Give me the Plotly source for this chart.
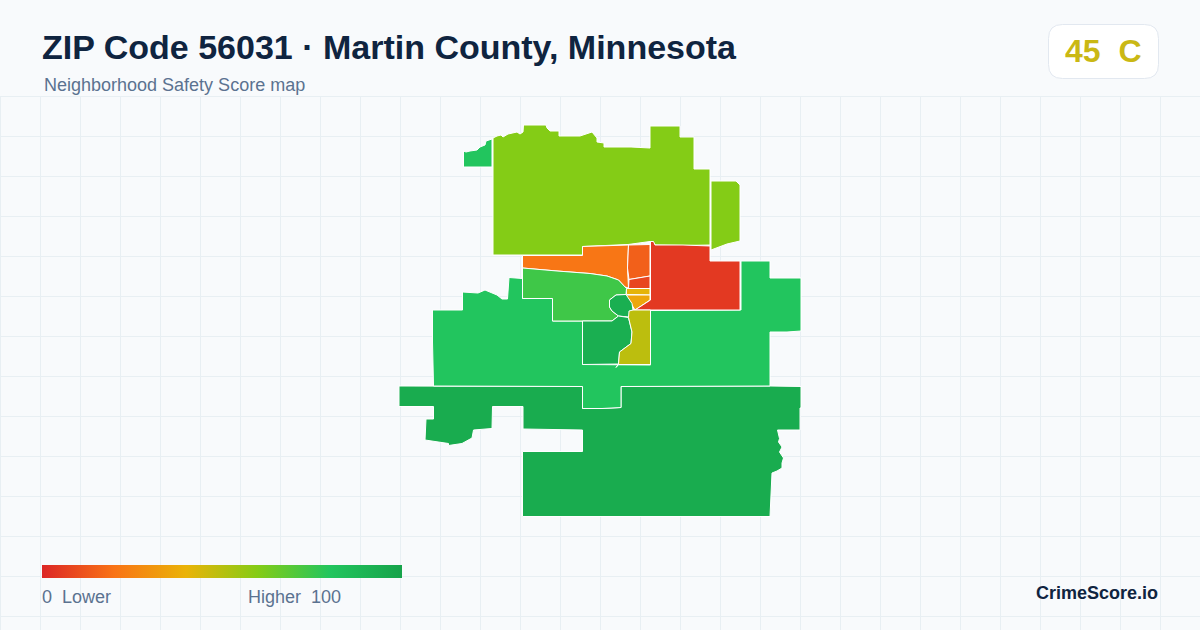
import plotly.graph_objects as go
from plotly.colors import sample_colorscale

title_text = "ZIP Code 56031 · Martin County, Minnesota"
subtitle_text = "Neighborhood Safety Score map"
badge_text = "45\u00a0\u00a0C"
legend_low = "0\u00a0\u00a0Lower"
legend_high = "Higher\u00a0\u00a0100"
brand_text = "CrimeScore.io"

score_stops = [0, 20, 40, 60, 80, 100]
stop_colors = ["#dc2626", "#f97316", "#eab308", "#84cc16", "#22c55e", "#16a34a"]

# Tract outlines in map units
north_x = [493, 497, 501, 503, 508, 517, 520, 523, 523.5, 546, 547, 550, 559, 559, 580, 590, 592, 597, 597, 604, 604, 631, 650, 650, 680, 680, 694, 694, 710, 710, 684, 655, 653, 650, 628, 582.5, 582.5, 493]
north_y = [138, 136, 135, 137, 134, 132, 134, 132, 125, 125, 128, 131, 131, 136, 136, 132, 132, 138, 142, 143, 147, 147, 148, 126, 126, 137, 137, 169, 169, 245, 245.5, 245, 241.5, 241.5, 244.5, 246.5, 255, 255]
north_score = 60

east_x = [711, 736, 740, 740, 727, 711]
east_y = [181, 181, 185, 241, 244, 250]
east_score = 60

nw_x = [463.5, 466, 470, 477, 480, 485, 486, 490, 492, 492, 463.5]
nw_y = [151, 152, 151, 150, 147, 145, 141, 139.5, 139, 167, 167]
nw_score = 80

south_x = [399, 582.5, 582.5, 602, 621, 621, 770, 801, 801, 800, 800, 777.5, 779.5, 778.5, 782, 779.5, 783.5, 782, 782, 777, 772, 771, 770, 522.5, 522.5, 582.5, 582.5, 553, 523, 523, 492.5, 492, 483, 473.5, 472, 462, 448.5, 448.5, 435, 425, 426, 433.5, 433.5, 399]
south_y = [386, 386.5, 408.5, 408.5, 407.5, 386.5, 386, 386.5, 408, 408, 430, 430, 438.5, 442, 447, 452, 458, 463, 468, 471, 473, 505, 516.5, 516.5, 451.5, 451.5, 430, 429.5, 429, 406.5, 406.5, 428.5, 429, 430, 438, 443.5, 445.5, 443.5, 441.5, 440, 419, 419, 406.5, 406.5]
south_score = 95

main_x = [432.5, 432.5, 433.5, 582.5, 582.5, 602, 621, 621, 770, 770, 787, 801, 801, 770, 770, 741, 741, 650.5, 650.5, 618, 582.5, 582.5, 552.5, 552.5, 522.5, 522.5, 509, 507.5, 502, 497, 485, 478, 462.5, 462.5]
main_y = [310, 342, 386, 386.5, 408.5, 408.5, 407.5, 386.5, 386, 332, 332, 331, 278, 278, 261, 261, 310, 310.5, 365, 364.5, 364.5, 321, 321, 298.5, 298.5, 278.5, 277.5, 299, 299, 295, 290, 293, 292, 310]
main_score = 80

orange_x = [522.5, 582.5, 582.5, 628.5, 627.5, 628.5, 625, 618.5, 607, 590, 557, 522.5]
orange_y = [255.5, 255.5, 246.5, 245, 268, 288, 287, 280, 276, 273.5, 271, 268]
orange_score = 21

upper_red_x = [628.5, 650, 650, 629, 627.5]
upper_red_y = [245, 244.5, 276, 279.5, 268]
upper_red_score = 15

lower_red_x = [629, 650, 650, 628.5]
lower_red_y = [279.5, 276, 288.5, 288.5]
lower_red_score = 8

band_x = [626.5, 650, 650, 626.5]
band_y = [288.5, 288.5, 295, 294.5]
band_score = 41

amber_x = [626.5, 650, 650, 635, 631, 627]
amber_y = [295, 295, 300, 310, 303.5, 298]
amber_score = 36

red_x = [650.5, 653.5, 655, 683, 710, 710, 740, 740, 650, 635, 650.5]
red_y = [241.5, 241.5, 245, 245, 246, 261, 261, 310, 310, 310, 300]
red_score = 5

mid_x = [522.5, 522.5, 552.5, 552.5, 568, 612, 618.5, 612, 609.5, 609.5, 616, 626, 626.5, 625, 618.5, 607, 590, 557]
mid_y = [268, 298.5, 298.5, 321, 321, 321, 316, 311, 307, 300, 295, 294.5, 288.5, 287, 280, 276, 273.5, 271]
mid_score = 74

blob_x = [616, 626, 632, 633, 628.5, 618.5, 612, 609.5, 609.5]
blob_y = [295, 294.5, 303.5, 310, 317, 316, 311, 307, 300]
blob_score = 93

dark_x = [582.5, 612, 618.5, 628.5, 632, 631, 619.5, 618.5, 582.5]
dark_y = [321, 321, 316, 317.5, 332, 343.5, 352, 364, 364.5]
dark_score = 93

olive_x = [629, 633, 650.5, 650.5, 618.5, 616, 618.5, 619.5, 631, 632, 628.5]
olive_y = [311, 310, 310, 364.5, 364.5, 367.5, 364, 352, 343.5, 332, 317.5]
olive_score = 49

regions = [
    ("North", north_x, north_y, north_score),
    ("East", east_x, east_y, east_score),
    ("Northwest", nw_x, nw_y, nw_score),
    ("South", south_x, south_y, south_score),
    ("Main", main_x, main_y, main_score),
    ("Orange", orange_x, orange_y, orange_score),
    ("Upper red", upper_red_x, upper_red_y, upper_red_score),
    ("Lower red", lower_red_x, lower_red_y, lower_red_score),
    ("Band", band_x, band_y, band_score),
    ("Amber", amber_x, amber_y, amber_score),
    ("Red", red_x, red_y, red_score),
    ("Mid", mid_x, mid_y, mid_score),
    ("Blob", blob_x, blob_y, blob_score),
    ("Dark", dark_x, dark_y, dark_score),
    ("Olive", olive_x, olive_y, olive_score),
]

W, H = 1200, 630
BG = "#f8fafc"
GRID = "#e8eff3"
FONT = "Liberation Sans"
TOP = 96

colorscale = [[s / 100, c] for s, c in zip(score_stops, stop_colors)]


def score_color(score):
    return sample_colorscale(colorscale, score / 100)[0]


def px(x):
    return x / W


def py(y):
    return 1 - y / H


fig = go.Figure()
for name, xs, ys, score in regions:
    fig.add_trace(go.Scatter(
        x=xs + xs[:1], y=ys + ys[:1], name=name, mode="lines", fill="toself",
        fillcolor=score_color(score), line=dict(color="#ffffff", width=1),
        hoverinfo="skip", showlegend=False,
    ))

# carrier for the colour legend
fig.add_trace(go.Scatter(
    x=[None, None], y=[None, None], mode="markers", showlegend=False, hoverinfo="skip",
    marker=dict(
        color=[0, 100], cmin=0, cmax=100, colorscale=colorscale, showscale=True,
        colorbar=dict(
            orientation="h", lenmode="pixels", len=360, thicknessmode="pixels", thickness=13,
            xref="container", yref="container", x=px(42), xanchor="left",
            y=py(565), yanchor="top", xpad=0, ypad=0, outlinewidth=0, borderwidth=0,
            showticklabels=False, ticks="",
        ),
    ),
))

# badge outline
bx0, bx1, by0, by1, r = 1048.5, 1158.5, 24.5, 78.5, 14
badge_path = (
    f"M {px(bx0 + r)} {py(by0)} L {px(bx1 - r)} {py(by0)} Q {px(bx1)} {py(by0)} {px(bx1)} {py(by0 + r)} "
    f"L {px(bx1)} {py(by1 - r)} Q {px(bx1)} {py(by1)} {px(bx1 - r)} {py(by1)} "
    f"L {px(bx0 + r)} {py(by1)} Q {px(bx0)} {py(by1)} {px(bx0)} {py(by1 - r)} "
    f"L {px(bx0)} {py(by0 + r)} Q {px(bx0)} {py(by0)} {px(bx0 + r)} {py(by0)} Z"
)


def label(x, y, text, size, color, anchor="left", bold=False):
    return dict(
        xref="paper", yref="paper", x=px(x), y=py(y), text=f"<b>{text}</b>" if bold else text,
        showarrow=False, xanchor=anchor, yanchor="middle", align=anchor,
        font=dict(family=FONT, size=size, color=color), borderpad=0, borderwidth=0,
    )


edge_lines = [
    dict(type="line", xref="paper", yref="paper", x0=0, x1=1, y0=py(TOP + 0.5), y1=py(TOP + 0.5),
         line=dict(color=GRID, width=1), layer="below"),
    dict(type="line", xref="paper", yref="paper", x0=px(0.5), x1=px(0.5), y0=0, y1=py(TOP + 0.5),
         line=dict(color=GRID, width=1), layer="below"),
]

fig.update_layout(
    width=W, height=H, margin=dict(l=0, r=0, t=0, b=0, pad=0, autoexpand=False),
    paper_bgcolor=BG, plot_bgcolor=BG, showlegend=False,
    xaxis=dict(range=[0, W], domain=[0, 1], tick0=0.5, dtick=40, showgrid=True, gridcolor=GRID,
               gridwidth=1, zeroline=False, showticklabels=False, ticks="", showline=False, fixedrange=True),
    yaxis=dict(range=[H, TOP], domain=[0, (H - TOP) / H], tick0=TOP + 0.5, dtick=40, showgrid=True,
               gridcolor=GRID, gridwidth=1, zeroline=False, showticklabels=False, ticks="", showline=False,
               fixedrange=True),
    shapes=edge_lines + [
        dict(type="path", xref="paper", yref="paper", path=badge_path, fillcolor="#ffffff",
             line=dict(color="#e2e8f0", width=1), layer="above")],
    annotations=[
        label(42, 47, title_text, 34, "#0f2440", bold=True),
        label(44, 85, subtitle_text, 18, "#5b7290"),
        label(1103, 51, badge_text, 32, "#cab814", anchor="center", bold=True),
        label(42, 597, legend_low, 18, "#5b7290"),
        label(341, 597, legend_high, 18, "#5b7290", anchor="right"),
        label(1158, 593, brand_text, 18, "#0f2440", anchor="right", bold=True),
    ],
)

fig.write_html(
    "out.html",
    config=dict(displayModeBar=False, staticPlot=True),
    post_script="document.body.style.margin='0';document.body.style.background='#f8fafc';"
                "document.documentElement.style.overflow='hidden';",
)
